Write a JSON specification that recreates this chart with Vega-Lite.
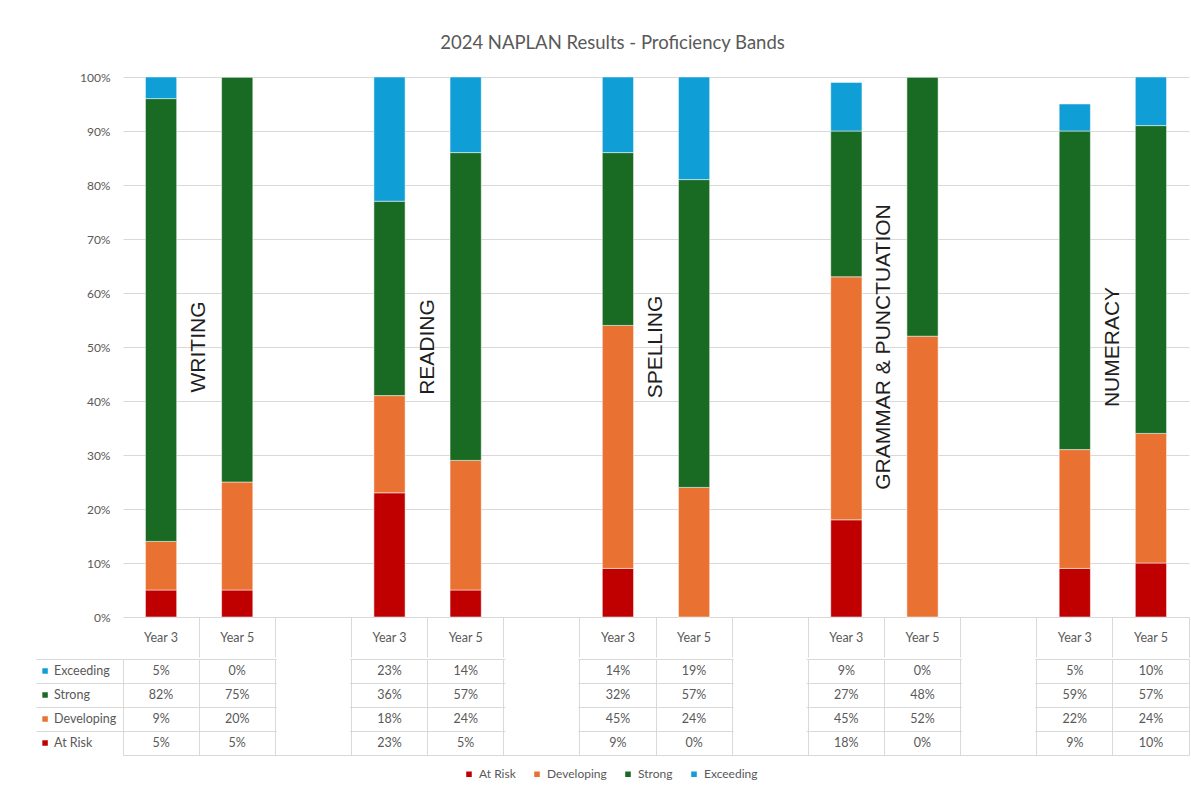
{
  "$schema": "https://vega.github.io/schema/vega-lite/v6.json",
  "padding": {"left": 35, "top": 33, "right": 0, "bottom": 0},
  "title": {"text": "2024 NAPLAN Results - Proficiency Bands", "anchor": "middle", "fontSize": 18.5, "font": "Lato", "fontWeight": "normal", "color": "#595959", "offset": 19},
  "spacing": 0,
  "vconcat": [
    {
      "width": 1066,
      "height": 540,
      "encoding": {
        "x": {
          "field": "col", "type": "nominal",
          "scale": {"domain": ["WRITING|Year 3", "WRITING|Year 5", "gap1", "READING|Year 3", "READING|Year 5", "gap2", "SPELLING|Year 3", "SPELLING|Year 5", "gap3", "GRAMMAR & PUNCTUATION|Year 3", "GRAMMAR & PUNCTUATION|Year 5", "gap4", "NUMERACY|Year 3", "NUMERACY|Year 5"], "paddingInner": 0, "paddingOuter": 0},
          "axis": {
            "title": null, "orient": "bottom", "domain": true, "domainColor": "#d9d9d9",
            "ticks": true, "tickColor": "#d9d9d9", "tickSize": 40, "bandPosition": 1,
            "labelExpr": "indexof(datum.value, '|') >= 0 ? split(datum.value, '|')[1] : ''",
            "labelOffset": 0, "labelPadding": -20, "labelBaseline": "middle", "labelAngle": 0,
            "labelFontSize": 12.5, "labelColor": "#595959", "grid": false
          }
        }
      },
      "layer": [
        {
          "data": {"values": [
            {"col": "WRITING|Year 3", "band": "At Risk", "value": 0.05},
            {"col": "WRITING|Year 3", "band": "Developing", "value": 0.09},
            {"col": "WRITING|Year 3", "band": "Strong", "value": 0.82},
            {"col": "WRITING|Year 3", "band": "Exceeding", "value": 0.05},
            {"col": "WRITING|Year 5", "band": "At Risk", "value": 0.05},
            {"col": "WRITING|Year 5", "band": "Developing", "value": 0.20},
            {"col": "WRITING|Year 5", "band": "Strong", "value": 0.75},
            {"col": "WRITING|Year 5", "band": "Exceeding", "value": 0},
            {"col": "READING|Year 3", "band": "At Risk", "value": 0.23},
            {"col": "READING|Year 3", "band": "Developing", "value": 0.18},
            {"col": "READING|Year 3", "band": "Strong", "value": 0.36},
            {"col": "READING|Year 3", "band": "Exceeding", "value": 0.23},
            {"col": "READING|Year 5", "band": "At Risk", "value": 0.05},
            {"col": "READING|Year 5", "band": "Developing", "value": 0.24},
            {"col": "READING|Year 5", "band": "Strong", "value": 0.57},
            {"col": "READING|Year 5", "band": "Exceeding", "value": 0.14},
            {"col": "SPELLING|Year 3", "band": "At Risk", "value": 0.09},
            {"col": "SPELLING|Year 3", "band": "Developing", "value": 0.45},
            {"col": "SPELLING|Year 3", "band": "Strong", "value": 0.32},
            {"col": "SPELLING|Year 3", "band": "Exceeding", "value": 0.14},
            {"col": "SPELLING|Year 5", "band": "At Risk", "value": 0},
            {"col": "SPELLING|Year 5", "band": "Developing", "value": 0.24},
            {"col": "SPELLING|Year 5", "band": "Strong", "value": 0.57},
            {"col": "SPELLING|Year 5", "band": "Exceeding", "value": 0.19},
            {"col": "GRAMMAR & PUNCTUATION|Year 3", "band": "At Risk", "value": 0.18},
            {"col": "GRAMMAR & PUNCTUATION|Year 3", "band": "Developing", "value": 0.45},
            {"col": "GRAMMAR & PUNCTUATION|Year 3", "band": "Strong", "value": 0.27},
            {"col": "GRAMMAR & PUNCTUATION|Year 3", "band": "Exceeding", "value": 0.09},
            {"col": "GRAMMAR & PUNCTUATION|Year 5", "band": "At Risk", "value": 0},
            {"col": "GRAMMAR & PUNCTUATION|Year 5", "band": "Developing", "value": 0.52},
            {"col": "GRAMMAR & PUNCTUATION|Year 5", "band": "Strong", "value": 0.48},
            {"col": "GRAMMAR & PUNCTUATION|Year 5", "band": "Exceeding", "value": 0},
            {"col": "NUMERACY|Year 3", "band": "At Risk", "value": 0.09},
            {"col": "NUMERACY|Year 3", "band": "Developing", "value": 0.22},
            {"col": "NUMERACY|Year 3", "band": "Strong", "value": 0.59},
            {"col": "NUMERACY|Year 3", "band": "Exceeding", "value": 0.05},
            {"col": "NUMERACY|Year 5", "band": "At Risk", "value": 0.10},
            {"col": "NUMERACY|Year 5", "band": "Developing", "value": 0.24},
            {"col": "NUMERACY|Year 5", "band": "Strong", "value": 0.57},
            {"col": "NUMERACY|Year 5", "band": "Exceeding", "value": 0.10}
          ]},
          "transform": [{"calculate": "datum.band === 'At Risk' ? 0 : datum.band === 'Developing' ? 1 : datum.band === 'Strong' ? 2 : 3", "as": "ord"}],
          "mark": {"type": "bar", "width": {"band": 0.41}, "stroke": "white", "strokeWidth": 0.5},
          "encoding": {
            "y": {
              "field": "value", "type": "quantitative", "stack": "zero",
              "scale": {"domain": [0, 1], "clamp": true},
              "axis": {"title": null, "values": [0, 0.1, 0.2, 0.3, 0.4, 0.5, 0.6, 0.7, 0.8, 0.9, 1], "format": ".0%", "grid": true, "gridColor": "#d9d9d9", "domain": false, "ticks": false, "labelPadding": 13, "minExtent": 87, "maxExtent": 87, "labelFontSize": 12, "labelColor": "#595959"}
            },
            "order": {"field": "ord", "type": "quantitative"},
            "color": {
              "field": "band", "type": "nominal",
              "scale": {"domain": ["At Risk", "Developing", "Strong", "Exceeding"], "range": ["#c00000", "#e97132", "#196b24", "#0f9ed5"]},
              "legend": {"orient": "none", "legendX": 340, "legendY": 691, "direction": "horizontal", "title": null, "symbolType": "square", "symbolSize": 50, "labelFontSize": 12, "labelColor": "#595959", "columnPadding": 14}
            }
          }
        },
        {
          "data": {"values": [
            {"subject": "WRITING", "col": "WRITING|Year 5"},
            {"subject": "READING", "col": "READING|Year 5"},
            {"subject": "SPELLING", "col": "SPELLING|Year 5"},
            {"subject": "GRAMMAR & PUNCTUATION", "col": "GRAMMAR & PUNCTUATION|Year 5"},
            {"subject": "NUMERACY", "col": "NUMERACY|Year 5"}
          ]},
          "mark": {"type": "text", "angle": 270, "font": "Liberation Sans", "fontSize": 21, "color": "#1f1f1f", "baseline": "middle", "align": "center"},
          "encoding": {
            "x": {"field": "col", "type": "nominal", "bandPosition": 0},
            "y": {"datum": 0.5},
            "text": {"field": "subject"}
          }
        }
      ]
    },
    {
      "width": 1066,
      "height": 96,
      "view": {"stroke": null},
      "data": {"values": [
        {"col": "WRITING|Year 3", "band": "At Risk", "value": 0.05},
        {"col": "WRITING|Year 3", "band": "Developing", "value": 0.09},
        {"col": "WRITING|Year 3", "band": "Strong", "value": 0.82},
        {"col": "WRITING|Year 3", "band": "Exceeding", "value": 0.05},
        {"col": "WRITING|Year 5", "band": "At Risk", "value": 0.05},
        {"col": "WRITING|Year 5", "band": "Developing", "value": 0.20},
        {"col": "WRITING|Year 5", "band": "Strong", "value": 0.75},
        {"col": "WRITING|Year 5", "band": "Exceeding", "value": 0},
        {"col": "READING|Year 3", "band": "At Risk", "value": 0.23},
        {"col": "READING|Year 3", "band": "Developing", "value": 0.18},
        {"col": "READING|Year 3", "band": "Strong", "value": 0.36},
        {"col": "READING|Year 3", "band": "Exceeding", "value": 0.23},
        {"col": "READING|Year 5", "band": "At Risk", "value": 0.05},
        {"col": "READING|Year 5", "band": "Developing", "value": 0.24},
        {"col": "READING|Year 5", "band": "Strong", "value": 0.57},
        {"col": "READING|Year 5", "band": "Exceeding", "value": 0.14},
        {"col": "SPELLING|Year 3", "band": "At Risk", "value": 0.09},
        {"col": "SPELLING|Year 3", "band": "Developing", "value": 0.45},
        {"col": "SPELLING|Year 3", "band": "Strong", "value": 0.32},
        {"col": "SPELLING|Year 3", "band": "Exceeding", "value": 0.14},
        {"col": "SPELLING|Year 5", "band": "At Risk", "value": 0},
        {"col": "SPELLING|Year 5", "band": "Developing", "value": 0.24},
        {"col": "SPELLING|Year 5", "band": "Strong", "value": 0.57},
        {"col": "SPELLING|Year 5", "band": "Exceeding", "value": 0.19},
        {"col": "GRAMMAR & PUNCTUATION|Year 3", "band": "At Risk", "value": 0.18},
        {"col": "GRAMMAR & PUNCTUATION|Year 3", "band": "Developing", "value": 0.45},
        {"col": "GRAMMAR & PUNCTUATION|Year 3", "band": "Strong", "value": 0.27},
        {"col": "GRAMMAR & PUNCTUATION|Year 3", "band": "Exceeding", "value": 0.09},
        {"col": "GRAMMAR & PUNCTUATION|Year 5", "band": "At Risk", "value": 0},
        {"col": "GRAMMAR & PUNCTUATION|Year 5", "band": "Developing", "value": 0.52},
        {"col": "GRAMMAR & PUNCTUATION|Year 5", "band": "Strong", "value": 0.48},
        {"col": "GRAMMAR & PUNCTUATION|Year 5", "band": "Exceeding", "value": 0},
        {"col": "NUMERACY|Year 3", "band": "At Risk", "value": 0.09},
        {"col": "NUMERACY|Year 3", "band": "Developing", "value": 0.22},
        {"col": "NUMERACY|Year 3", "band": "Strong", "value": 0.59},
        {"col": "NUMERACY|Year 3", "band": "Exceeding", "value": 0.05},
        {"col": "NUMERACY|Year 5", "band": "At Risk", "value": 0.10},
        {"col": "NUMERACY|Year 5", "band": "Developing", "value": 0.24},
        {"col": "NUMERACY|Year 5", "band": "Strong", "value": 0.57},
        {"col": "NUMERACY|Year 5", "band": "Exceeding", "value": 0.10}
      ]},
      "encoding": {
        "x": {
          "field": "col", "type": "nominal",
          "scale": {"type": "band", "domain": ["WRITING|Year 3", "WRITING|Year 5", "gap1", "READING|Year 3", "READING|Year 5", "gap2", "SPELLING|Year 3", "SPELLING|Year 5", "gap3", "GRAMMAR & PUNCTUATION|Year 3", "GRAMMAR & PUNCTUATION|Year 5", "gap4", "NUMERACY|Year 3", "NUMERACY|Year 5"], "paddingInner": 0, "paddingOuter": 0},
          "axis": {"title": null, "labels": false, "ticks": false, "domain": true, "domainColor": "#d9d9d9", "grid": true, "gridColor": "#d9d9d9", "bandPosition": 1}
        },
        "y": {
          "field": "band", "type": "nominal",
          "scale": {"type": "band", "domain": ["Exceeding", "Strong", "Developing", "At Risk"], "paddingInner": 0, "paddingOuter": 0},
          "axis": {"title": null, "labels": false, "ticks": true, "tickSize": 87, "tickColor": "#d9d9d9", "domain": true, "domainColor": "#d9d9d9", "grid": true, "gridColor": "#d9d9d9", "bandPosition": 0}
        }
      },
      "layer": [
        {
          "data": {"values": [
            {"col": "gap1", "band": "Exceeding"}, {"col": "gap1", "band": "Strong"}, {"col": "gap1", "band": "Developing"}, {"col": "gap1", "band": "At Risk"},
            {"col": "gap2", "band": "Exceeding"}, {"col": "gap2", "band": "Strong"}, {"col": "gap2", "band": "Developing"}, {"col": "gap2", "band": "At Risk"},
            {"col": "gap3", "band": "Exceeding"}, {"col": "gap3", "band": "Strong"}, {"col": "gap3", "band": "Developing"}, {"col": "gap3", "band": "At Risk"},
            {"col": "gap4", "band": "Exceeding"}, {"col": "gap4", "band": "Strong"}, {"col": "gap4", "band": "Developing"}, {"col": "gap4", "band": "At Risk"}
          ]},
          "mark": {"type": "bar", "color": "white", "width": {"band": 0.96}, "height": {"band": 1}}
        },
        {
          "mark": {"type": "text", "fontSize": 12.5, "color": "#595959", "baseline": "middle"},
          "encoding": {
            "text": {"field": "value", "type": "quantitative", "format": ".0%"}
          }
        },
        {
          "transform": [{"filter": "datum.col === 'WRITING|Year 3'"}],
          "mark": {"type": "point", "shape": "square", "filled": true, "size": 30, "opacity": 1, "xOffset": -116},
          "encoding": {
            "color": {"field": "band", "type": "nominal", "scale": {"domain": ["At Risk", "Developing", "Strong", "Exceeding"], "range": ["#c00000", "#e97132", "#196b24", "#0f9ed5"]}, "legend": null}
          }
        },
        {
          "transform": [{"filter": "datum.col === 'WRITING|Year 3'"}],
          "mark": {"type": "text", "align": "left", "baseline": "middle", "dx": -107, "fontSize": 12.5, "color": "#595959"},
          "encoding": {"text": {"field": "band", "type": "nominal"}}
        }
      ]
    }
  ],
  "config": {
    "view": {"stroke": null},
    "font": "Lato"
  }
}
